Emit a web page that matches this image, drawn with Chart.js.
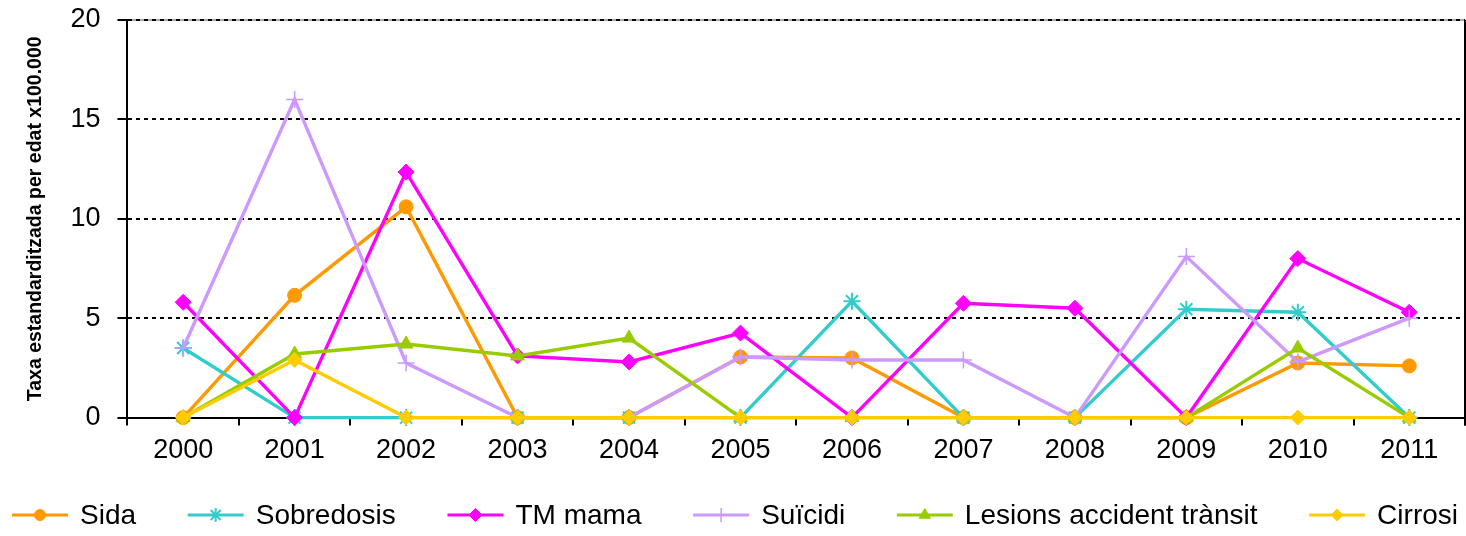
<!DOCTYPE html>
<html>
<head>
<meta charset="utf-8">
<script src="https://cdn.jsdelivr.net/npm/chart.js"></script>
<style>
  html, body { margin: 0; padding: 0; background: #fff; }
  #wrap { width: 1466px; height: 536px; }
</style>
</head>
<body>
<div id="wrap"><canvas id="chart" width="1466" height="536"></canvas></div>
<script>
var years      = ['2000', '2001', '2002', '2003', '2004', '2005', '2006', '2007', '2008', '2009', '2010', '2011']
var sida       = [0, 6.15, 10.6, 0, 0, 3.05, 3.0, 0, 0, 0, 2.75, 2.6]
var sobredosis = [3.5, 0, 0, 0, 0, 0, 5.85, 0, 0, 5.45, 5.3, 0]
var tmMama     = [5.8, 0, 12.35, 3.1, 2.8, 4.25, 0, 5.75, 5.5, 0, 8.0, 5.3]
var suicidi    = [3.5, 16.0, 2.75, 0, 0, 3.05, 2.9, 2.9, 0, 8.1, 2.8, 5.0]
var lesions    = [0, 3.2, 3.7, 3.1, 4.0, 0, 0, 0, 0, 0, 3.5, 0]
var cirrosi    = [0, 2.9, 0, 0, 0, 0, 0, 0, 0, 0, 0, 0]
var yTicks     = [0, 5, 10, 15, 20]

Chart.defaults.font.family = "'Liberation Sans', Arial, sans-serif"
Chart.defaults.color = '#000'

// one series = one line with its own marker
var serie = function(label, data, color, style, radius, border, order) {
	return {
		label: label,
		data: data,
		borderColor: color,
		backgroundColor: color,
		borderWidth: 3.4,
		pointStyle: style,
		pointRadius: radius,
		pointBorderWidth: border,
		pointBackgroundColor: color,
		pointBorderColor: color,
		tension: 0,
		clip: false,
		order: order
	}
}

// grey top edge and black right edge of the plot area
var plotFrame = {
	id: 'plotFrame',
	beforeDraw: function(chart) {
		var ctx = chart.ctx, a = chart.chartArea
		ctx.save()
		ctx.lineWidth = 1.5
		ctx.strokeStyle = '#8a8a8a'
		ctx.beginPath()
		ctx.moveTo(a.left, a.top)
		ctx.lineTo(a.right, a.top)
		ctx.stroke()
		ctx.lineWidth = 2
		ctx.strokeStyle = '#000'
		ctx.beginPath()
		ctx.moveTo(a.right, a.top)
		ctx.lineTo(a.right, a.bottom + 8)
		ctx.stroke()
		ctx.restore()
	}
}

// legend row: short line with the marker in the middle, then the label
var lineLegend = {
	id: 'lineLegend',
	afterDraw: function(chart, args, opts) {
		var ctx = chart.ctx
		var sets = chart.data.datasets
		ctx.save()
		ctx.font = opts.font
		var widths = sets.map(function(ds) {
			return opts.lineLength + opts.textGap + ctx.measureText(ds.label).width
		})
		var total = widths.reduce(function(a, b) { return a + b }, 0)
		var gap = (opts.right - opts.left - total) / (sets.length - 1)
		var x = opts.left
		sets.forEach(function(ds, i) {
			ctx.strokeStyle = ds.borderColor
			ctx.fillStyle = ds.borderColor
			ctx.lineWidth = 3
			ctx.beginPath()
			ctx.moveTo(x, opts.y)
			ctx.lineTo(x + opts.lineLength, opts.y)
			ctx.stroke()
			ctx.lineWidth = ds.pointBorderWidth
			Chart.helpers.drawPoint(ctx, {
				pointStyle: ds.pointStyle,
				radius: ds.pointRadius - 1.5,
				borderWidth: ds.pointBorderWidth,
				rotation: 0
			}, x + opts.lineLength / 2, opts.y)
			ctx.fillStyle = '#000'
			ctx.textAlign = 'left'
			ctx.textBaseline = 'middle'
			ctx.fillText(ds.label, x + opts.lineLength + opts.textGap, opts.y + 1)
			x += widths[i] + gap
		})
		ctx.restore()
	}
}

var ctx = document.getElementById('chart').getContext('2d')

new Chart(ctx, {
	type: 'line',
	data: {
		labels: years,
		datasets: [
			serie('Sida', sida, '#FF9900', 'circle', 7, 1, 5),
			serie('Sobredosis', sobredosis, '#33CCCC', 'star', 8.5, 2, 4),
			serie('TM mama', tmMama, '#FF00FF', 'rectRot', 8, 1, 3),
			serie('Suïcidi', suicidi, '#CC99FF', 'cross', 8.5, 1.5, 2),
			serie('Lesions accident trànsit', lesions, '#99CC00', 'triangle', 8, 1, 1),
			serie('Cirrosi', cirrosi, '#FFCC00', 'rectRot', 7.5, 1, 0)
		]
	},
	options: {
		responsive: false,
		animation: false,
		devicePixelRatio: 1,
		layout: {
			autoPadding: false,
			padding: { top: 20, right: 1, left: 24, bottom: 60 }
		},
		plugins: {
			legend: { display: false },
			tooltip: { enabled: false },
			lineLegend: {
				font: "28px 'Liberation Sans', Arial, sans-serif",
				left: 12,
				right: 1458,
				y: 515,
				lineLength: 56,
				textGap: 12
			}
		},
		scales: {
			x: {
				type: 'category',
				offset: true,
				grid: {
					offset: true,
					drawOnChartArea: false,
					color: '#000',
					lineWidth: 2,
					tickLength: 8
				},
				border: { color: '#000', width: 2 },
				ticks: {
					color: '#000',
					font: { size: 27 },
					padding: 9,
					maxRotation: 0,
					autoSkip: false
				}
			},
			y: {
				min: yTicks[0],
				max: yTicks[yTicks.length - 1],
				afterBuildTicks: function(scale) {
					scale.ticks = yTicks.map(function(v) { return { value: v } })
				},
				// the "20" label may sit above the plot top, no extra room for it
				afterFit: function(scale) {
					scale.paddingTop = 0
				},
				grid: {
					color: '#000',
					lineWidth: 2,
					tickLength: 10,
					tickColor: '#000',
					tickWidth: 2,
					tickBorderDash: [1, 0]
				},
				border: { color: '#000', width: 2, dash: [4, 4] },
				ticks: {
					color: '#000',
					font: { size: 27 },
					padding: 17
				},
				title: {
					display: true,
					text: 'Taxa estandarditzada per edat x100.000',
					color: '#000',
					font: { size: 19.5, weight: 'bold' },
					padding: { top: 0, bottom: 6 }
				}
			}
		}
	},
	plugins: [plotFrame, lineLegend]
})
</script>
</body>
</html>
